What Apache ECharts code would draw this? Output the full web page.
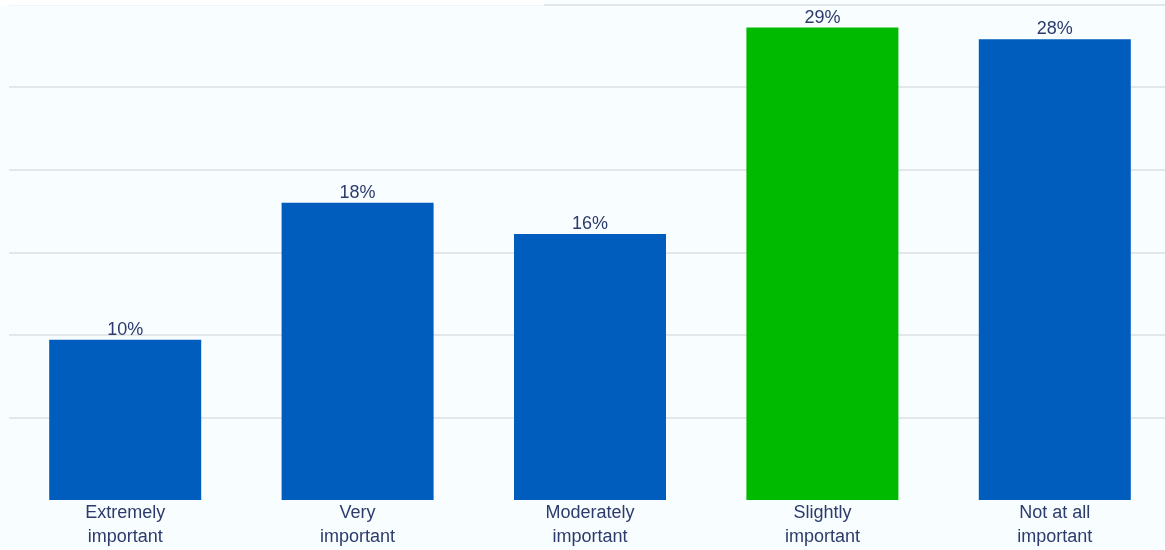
<!DOCTYPE html>
<html>
<head>
<meta charset="utf-8">
<script src="https://cdn.jsdelivr.net/npm/echarts@6/dist/echarts.min.js"></script>
<style>
html,body{margin:0;padding:0;background:#f8fdff;overflow:hidden;}
#chart{width:1171px;height:550px;}
</style>
</head>
<body>
<div id="chart"></div>
<script>
const categories = ['Extremely\nimportant', 'Very\nimportant', 'Moderately\nimportant', 'Slightly\nimportant', 'Not at all\nimportant'];
const values = [9.7, 18.0, 16.1, 28.6, 27.9];
const barColors = ['#005cbd', '#005cbd', '#005cbd', '#00ba00', '#005cbd'];
const yTicks = [0, 5, 10, 15, 20, 25, 30];

const gridColors = yTicks.map((t, i) => i === 0 ? 'rgba(0,0,0,0)' : '#dcdfe3');

const chart = echarts.init(document.getElementById('chart'), null, {renderer: 'canvas'});
chart.setOption({
  animation: false,
  backgroundColor: '#f8fdff',
  textStyle: {fontFamily: '"Liberation Sans", Arial, sans-serif'},
  graphic: [{
    type: 'rect', z: 100,
    shape: {x: 0, y: 0, width: 544, height: 5.5},
    style: {fill: '#ffffff'}
  }],
  grid: {
    left: 9, top: 4.5, right: 0, height: 495.5,
    show: false,
    containLabel: false
  },
  xAxis: {
    type: 'category',
    data: categories,
    axisLine: {show: false},
    axisTick: {show: false},
    axisLabel: {
      margin: 1, color: '#2c3b6c', fontSize: 18, lineHeight: 24,
      fontFamily: '"Liberation Sans", Arial, sans-serif', interval: 0
    }
  },
  yAxis: {
    type: 'value',
    min: yTicks[0], max: yTicks[yTicks.length - 1], interval: 5,
    axisLabel: {show: false},
    axisLine: {show: false},
    axisTick: {show: false},
    splitLine: {show: true, lineStyle: {color: gridColors, width: 1.5}}
  },
  series: [{
    type: 'bar',
    data: values.map((v, i) => ({value: v, itemStyle: {color: barColors[i]}})),
    barWidth: 152,
    label: {
      show: true, position: 'top', distance: 1,
      color: '#2c3b6c', fontSize: 18,
      fontFamily: '"Liberation Sans", Arial, sans-serif',
      formatter: p => Math.round(p.value) + '%'
    }
  }]
});
</script>
</body>
</html>
